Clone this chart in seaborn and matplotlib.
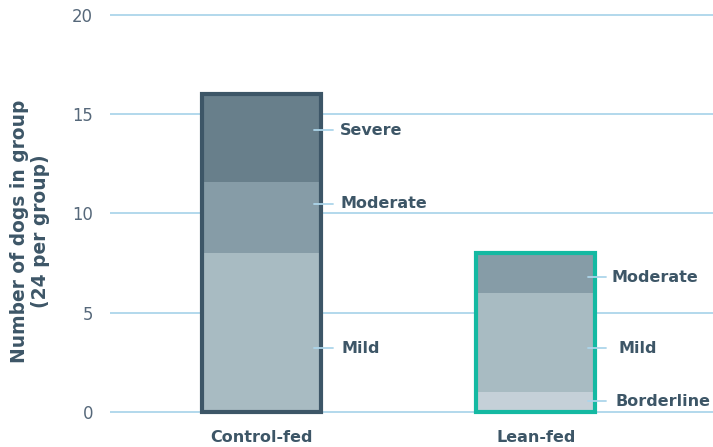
"""Stacked severity bars: control-fed vs lean-fed dogs (24 per group)."""

import matplotlib

matplotlib.use("Agg")
import matplotlib.pyplot as plt
import pandas as pd
import seaborn as sns

# ---- data -----------------------------------------------------------------
groups = ["Control-fed", "Lean-fed"]
severities = ["Borderline", "Mild", "Moderate", "Severe"]  # bottom -> top
control_counts = [0, 8, 3.6, 4.4]
lean_counts = [1, 5, 2, 0]

# label placement (y in data units)
control_label_y = {"Severe": 14.2, "Moderate": 10.5, "Mild": 3.2}
lean_label_y = {"Moderate": 6.8, "Mild": 3.2, "Borderline": 0.55}

# ---- style ----------------------------------------------------------------
TEXT = "#3d5667"
TICK = "#56687a"
GRID = "#acd5ea"
SEV_COLORS = {"Severe": "#687f8b", "Moderate": "#869ca7",
              "Mild": "#a8bbc2", "Borderline": "#c5d0d8"}
EDGE = {"Control-fed": "#3d5667", "Lean-fed": "#14b9a2"}

sns.set_style("white")
plt.rcParams["font.family"] = ["DejaVu Sans"]

rows = []
for grp, counts in zip(groups, [control_counts, lean_counts]):
    top = 0
    for sev, n in zip(severities, counts):
        top += n
        rows.append({"group": grp, "severity": sev, "count": n, "top": top})
df = pd.DataFrame(rows)
totals = df.groupby("group", sort=False)["count"].sum().reset_index()

fig = plt.figure(figsize=(7.13, 4.47), dpi=100)
ax = fig.add_axes([0.154, 0.0716, 0.846, 0.9016])

# stack by overdrawing cumulative tops, highest layer first
for sev in reversed(severities):
    sub = df[(df["severity"] == sev) & (df["count"] > 0)]
    sns.barplot(data=sub, x="group", y="top", order=groups, color=SEV_COLORS[sev],
                width=0.434, saturation=1, linewidth=0, ax=ax, zorder=2)

# coloured outline round each whole bar
sns.barplot(data=totals, x="group", y="count", order=groups, hue="group",
            palette=EDGE, fill=False, linewidth=3, width=0.434, legend=False,
            ax=ax, zorder=3)

# leader lines + segment labels
for xi, labels, x0, x1, tx in [
    (0, control_label_y, 0.19, 0.259, {"Severe": 0.285, "Moderate": 0.285, "Mild": 0.29}),
    (1, lean_label_y, 1.19, 1.255, {"Moderate": 1.277, "Mild": 1.30, "Borderline": 1.29}),
]:
    for lab, yv in labels.items():
        ax.plot([x0, x1], [yv, yv], color=GRID, lw=1.3, zorder=4)
        ax.text(tx[lab], yv, lab, ha="left", va="center", fontsize=11.5,
                fontweight="bold", color=TEXT)

ax.set_xlim(-0.555, 1.646)
ax.set_ylim(-0.15, 20.15)
ax.set_yticks([0, 5, 10, 15, 20])
ax.yaxis.grid(True, color=GRID, lw=1.3)
ax.set_axisbelow(True)
sns.despine(ax=ax, left=True, bottom=True)
ax.tick_params(axis="y", length=0, pad=12, labelsize=11.9, labelcolor=TICK)
ax.tick_params(axis="x", length=0, pad=11, labelsize=11.5, labelcolor=TEXT)
for t in ax.get_xticklabels():
    t.set_fontweight("bold")
ax.set_xlabel("")
ax.set_ylabel("")
fig.text(0.042, 0.483, "Number of dogs in group\n(24 per group)", rotation=90,
         ha="center", va="center", multialignment="center", fontsize=13.4,
         fontweight="bold", color=TEXT, linespacing=1.1)

fig.savefig("out.png", dpi=100)
